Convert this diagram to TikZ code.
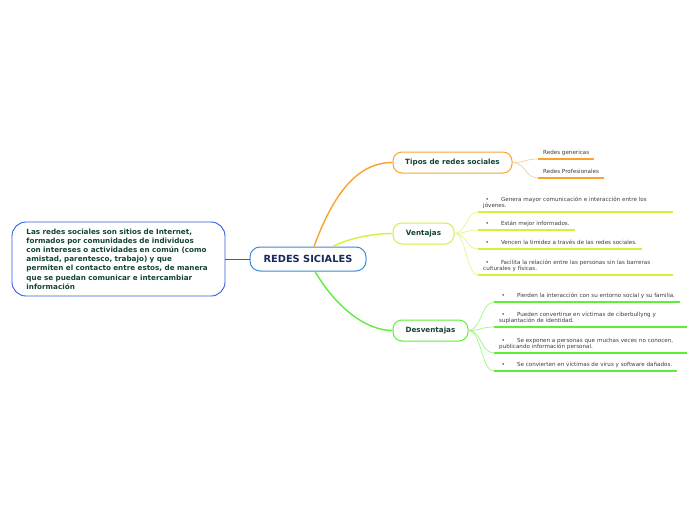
\documentclass[tikz,border=0pt]{standalone}
\usepackage{fontspec}
\setmainfont{DejaVu Sans}
\definecolor{boxblue}{RGB}{45,90,230}
\definecolor{hubblue}{RGB}{58,138,214}
\definecolor{hubtext}{RGB}{26,40,90}
\definecolor{topictext}{RGB}{18,68,52}
\definecolor{leafgray}{RGB}{60,60,60}
\definecolor{tiposorange}{RGB}{248,164,44}
\definecolor{tipostwig}{RGB}{250,205,140}
\definecolor{ventlime}{RGB}{210,242,58}
\definecolor{venttwig}{RGB}{225,246,140}
\definecolor{desvgreen}{RGB}{92,238,58}
\definecolor{desvtwig}{RGB}{160,245,130}
\usetikzlibrary{positioning}
\newcommand{\bul}{\hspace*{2.5pt}\textbullet\hspace{12pt}}

\begin{document}
\begin{tikzpicture}[
    x=1pt, y=-1pt,
    hub/.style={rectangle, rounded corners=10pt, draw=hubblue, line width=1pt, fill=white,
                minimum width=116pt, minimum height=24pt, text=hubtext,
                font=\fontsize{9.8}{11}\selectfont\bfseries},
    topic/.style={rectangle, rounded corners=9pt, line width=1pt, fill=white,
                minimum height=21pt, text=topictext,
                font=\fontsize{7.2}{8}\selectfont\bfseries},
    leaf/.style={anchor=south west, inner xsep=5pt, inner ysep=2pt, align=left,
                text=leafgray, font=\fontsize{5.6}{6.4}\selectfont,
                execute at end node=\strut},
    branch/.style={line width=1.4pt},
    twig/.style={line width=0.7pt},
    uline/.style={line width=2pt}
]
\useasboundingbox (0,0) rectangle (696,520);

% centre and definition
\node[hub] (hub) at (308,259) {REDES SICIALES};
\node[rectangle, rounded corners=14pt, draw=boxblue, line width=0.9pt,
      minimum width=213pt, minimum height=74pt, text width=184pt, align=left,
      text=topictext, font=\fontsize{7.2}{9.2}\selectfont\bfseries]
      (defin) at (118.5,259)
      {Las redes sociales son sitios de Internet,\\
       formados por comunidades de individuos\\
       con intereses o actividades en común (como\\
       amistad, parentesco, trabajo) y que\\
       permiten el contacto entre estos, de manera\\
       que se puedan comunicar e intercambiar\\
       información};
\draw[boxblue, line width=0.9pt] (defin.east) -- (hub.west);

% topics
\node[topic, draw=tiposorange, minimum width=119pt] (tipos) at (452.5,162.5) {Tipos de redes sociales};
\node[topic, draw=ventlime,    minimum width=61pt]  (vent)  at (423.5,233.5) {Ventajas};
\node[topic, draw=desvgreen,   minimum width=75pt]  (desv)  at (430.5,330.5) {Desventajas};

\draw[branch, tiposorange] ([xshift=6pt]hub.north)  .. controls +(21,-57) and +(-33,0) .. (tipos.west);
\draw[branch, ventlime]    ([xshift=25pt]hub.north) .. controls +(17,-9) and +(-18,0) .. (vent.west);
\draw[branch, desvgreen]   ([xshift=7pt]hub.south)  .. controls +(20,34) and +(-28,0) .. (desv.west);

% tipos de redes
\node[leaf] (tip1) at (538,159) {Redes genericas};
\node[leaf] (tip2) at (538,178) {Redes Profesionales};

\draw[uline, tiposorange] (tip1.south west) -- (tip1.south east);
\draw[uline, tiposorange] (tip2.south west) -- (tip2.south east);
\draw[twig, tipostwig] (tipos.east) .. controls +(13,0) and +(-13,0) .. (tip1.south west);
\draw[twig, tipostwig] (tipos.east) .. controls +(13,0) and +(-13,0) .. (tip2.south west);

% ventajas
\node[leaf, text width=184.7pt] (ven1) at (478,212)
  {\bul Genera mayor comunicación e interacción entre los\\jóvenes.};
\node[leaf] (ven2) at (478,230)
  {\bul Están mejor informados.};
\node[leaf] (ven3) at (478,249)
  {\bul Vencen la timidez a través de las redes sociales.};
\node[leaf, text width=184.7pt] (ven4) at (478,275)
  {\bul Facilita la relación entre las personas sin las barreras\\culturales y físicas.};

\foreach \v in {ven1,ven2,ven3,ven4}{
  \draw[uline, ventlime] (\v.south west) -- (\v.south east);
  \draw[twig, venttwig] (vent.east) .. controls +(12,0) and +(-12,0) .. (\v.south west);
}

% desventajas
\node[leaf] (des1) at (494,302)
  {\bul Pierden la interacción con su entorno social y su familia.};
\node[leaf, text width=182.7pt] (des2) at (494,327)
  {\bul Pueden convertirse en víctimas de ciberbullyng y\\suplantación de identidad.};
\node[leaf, text width=182.7pt] (des3) at (494,353)
  {\bul Se exponen a personas que muchas veces no conocen,\\publicando información personal.};
\node[leaf] (des4) at (494,371)
  {\bul Se convierten en víctimas de virus y software dañados.};

\foreach \d in {des1,des2,des3,des4}{
  \draw[uline, desvgreen] (\d.south west) -- (\d.south east);
  \draw[twig, desvtwig] (desv.east) .. controls +(13,0) and +(-13,0) .. (\d.south west);
}

\end{tikzpicture}
\end{document}
